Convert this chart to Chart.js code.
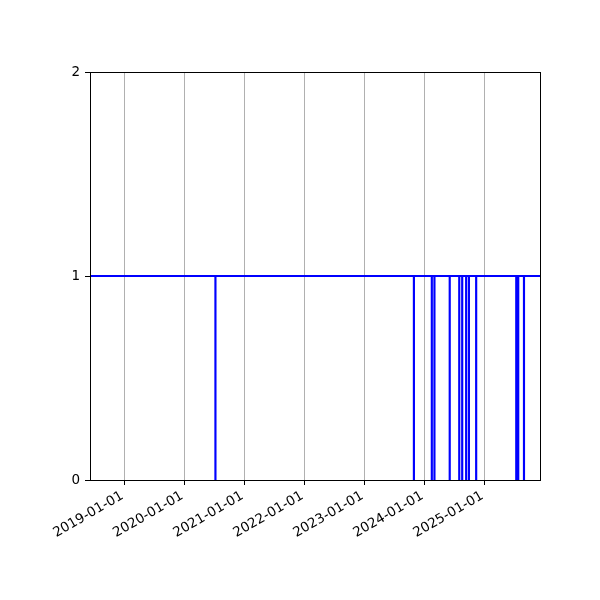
<!DOCTYPE html>
<html lang="en">
<head>
    <meta charset="UTF-8">
    <title>Status timeline</title>
    <style>
        body {
            margin: 0;
            background-color: #fff;
        }
        .chart-container {
            width: 600px;
            height: 600px;
        }
    </style>
    <script src="https://cdn.jsdelivr.net/npm/chart.js"></script>
</head>
<body>
    <div class="chart-container">
        <canvas id="statusChart" width="600" height="600"></canvas>
    </div>

    <script>
        // Data
        const rangeStart = '2018-06-06';
        const rangeEnd = '2025-12-05';
        const normalValue = 1;
        const outageValue = 0;
        // days where the value drops to 0
        const outageDays = [
            '2020-07-08', '2023-10-29', '2024-02-15', '2024-03-02',
            '2024-06-03', '2024-07-31', '2024-08-18', '2024-09-11',
            '2024-09-28', '2024-11-11', '2025-07-13', '2025-07-25',
            '2025-08-29'
        ];
        const yearTicks = [2019, 2020, 2021, 2022, 2023, 2024, 2025];
        const yTicks = [0, 1, 2];

        const DAY = 86400000;
        const toTime = s => Date.parse(s + 'T00:00:00Z');

        // step series: 1 everywhere, 0 for one day on each outage
        const points = [{x: toTime(rangeStart), y: normalValue}];
        outageDays.forEach(d => {
            points.push({x: toTime(d), y: outageValue});
            points.push({x: toTime(d) + DAY, y: normalValue});
        });
        points.push({x: toTime(rangeEnd), y: normalValue});

        const fmtDate = v => {
            const d = new Date(v);
            const p = n => String(n).padStart(2, '0');
            return d.getUTCFullYear() + '-' + p(d.getUTCMonth() + 1) + '-' + p(d.getUTCDate());
        };

        // box around the plot area, like matplotlib spines
        const frame = {
            id: 'frame',
            afterDatasetsDraw(chart) {
                const a = chart.chartArea;
                const c = chart.ctx;
                c.save();
                c.strokeStyle = '#000';
                c.lineWidth = 1;
                c.strokeRect(Math.round(a.left) + 0.5, Math.round(a.top) + 0.5,
                    Math.round(a.right - a.left), Math.round(a.bottom - a.top));
                c.restore();
            }
        };

        const font = {family: '"DejaVu Sans", sans-serif', size: 13.5};

        new Chart(document.getElementById('statusChart'), {
            type: 'line',
            data: {
                datasets: [{
                    data: points,
                    borderColor: '#0000ff',
                    borderWidth: 2,
                    pointRadius: 0,
                    stepped: 'before',
                    fill: false
                }]
            },
            options: {
                responsive: false,
                animation: false,
                events: [],
                layout: {padding: {left: 0, right: 60, top: 72, bottom: 0}},
                plugins: {legend: {display: false}, tooltip: {enabled: false}},
                scales: {
                    x: {
                        type: 'linear',
                        min: toTime(rangeStart),
                        max: toTime(rangeEnd),
                        afterBuildTicks: s => {
                            s.ticks = yearTicks.map(y => ({value: Date.UTC(y, 0, 1)}));
                        },
                        afterFit: s => { s.height = 120; },
                        ticks: {
                            callback: v => fmtDate(v),
                            autoSkip: false,
                            minRotation: 30,
                            maxRotation: 30,
                            labelOffset: -2,
                            color: '#000',
                            font: font,
                            padding: 3
                        },
                        grid: {
                            color: '#b0b0b0',
                            lineWidth: 1,
                            tickColor: '#000',
                            tickLength: 5
                        },
                        border: {display: false}
                    },
                    y: {
                        min: 0,
                        max: 2,
                        afterBuildTicks: s => {
                            s.ticks = yTicks.map(v => ({value: v}));
                        },
                        afterFit: s => { s.width = 90; },
                        ticks: {
                            color: '#000',
                            font: font,
                            padding: 5
                        },
                        grid: {
                            drawOnChartArea: false,
                            tickColor: '#000',
                            tickLength: 5
                        },
                        border: {display: false}
                    }
                }
            },
            plugins: [frame]
        });
    </script>
</body>
</html>
